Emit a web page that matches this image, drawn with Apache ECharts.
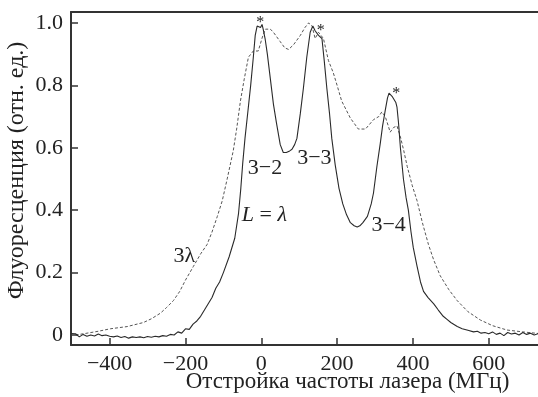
<!DOCTYPE html>
<html>
<head>
<meta charset="utf-8">
<script src="https://cdn.jsdelivr.net/npm/echarts@6/dist/echarts.min.js"></script>
<style>
  html, body { margin: 0; padding: 0; background: #fff; }
  #chart { width: 538px; height: 397px; }
</style>
</head>
<body>
<div id="chart"></div>
<script>
// Laser detuning (MHz) and relative fluorescence, single-wavelength cell (L = λ)
const detuningL = [-502,-490,-480,-470,-460,-450,-440,-430,-420,-410,-400,-390,-380,-370,-360,-350,-340,-330,-320,-310,-300,-290,-280,-270,-260,-250,-240,-230,-220,-210,-200,-190,-180,-170,-160,-150,-140,-130,-120,-110,-100,-85,-70,-60,-54,-49,-43,-35,-28,-21,-16,-11,-6,-2,2,5,10,16,24,32,40,50,58,66,75,81,88,94,103,111,120,129,136,142,151,160,166,173,180,186,195,205,215,225,235,245,253,260,268,280,290,296,305,314,320,327,333,337,341,345,350,355,358,362,367,375,382,388,395,401,411,420,428,440,455,467,480,490,500,517,530,545,560,570,580,590,600,610,620,630,640,650,660,670,680,690,700,710,720,730];
const fluorL = [0.005,0.004,-0.006,0.002,-0.004,0.0,-0.003,0.003,-0.002,0.0,-0.004,-0.006,-0.003,-0.008,-0.005,-0.01,-0.006,-0.008,-0.006,-0.009,-0.005,-0.007,-0.004,-0.006,-0.002,-0.004,0.002,0.0,0.01,0.006,0.02,0.018,0.035,0.045,0.06,0.08,0.1,0.12,0.15,0.17,0.2,0.25,0.31,0.39,0.47,0.55,0.63,0.72,0.8,0.89,0.96,0.99,0.995,0.985,0.995,0.98,0.95,0.9,0.82,0.74,0.68,0.61,0.585,0.585,0.59,0.595,0.61,0.63,0.71,0.79,0.89,0.97,0.99,0.975,0.96,0.95,0.88,0.79,0.71,0.63,0.545,0.47,0.42,0.385,0.36,0.35,0.346,0.35,0.36,0.38,0.42,0.455,0.54,0.615,0.67,0.72,0.76,0.775,0.77,0.765,0.76,0.745,0.73,0.68,0.6,0.5,0.44,0.4,0.33,0.28,0.22,0.17,0.14,0.12,0.1,0.08,0.06,0.05,0.04,0.027,0.02,0.015,0.01,0.012,0.006,0.008,0.004,0.01,0.002,0.006,-0.002,0.008,0.003,0.006,0.0,0.008,0.002,0.006,0.0,0.004];

// Thicker cell (L = 3λ)
const detuning3L = [-490,-464,-430,-398,-354,-311,-290,-266,-250,-232,-215,-200,-179,-160,-143,-130,-116,-103,-90,-74,-65,-55,-45,-34,-21,-8,3,11,16,24,32,50,62,72,85,103,115,125,134,142,151,164,177,190,200,212,235,256,275,296,310,318,327,335,340,349,358,367,376,385,398,411,425,441,455,472,495,517,545,578,610,648,690,730];
const fluor3L = [0.0,0.005,0.012,0.02,0.027,0.04,0.052,0.07,0.088,0.11,0.14,0.176,0.22,0.26,0.29,0.33,0.38,0.43,0.5,0.59,0.66,0.75,0.82,0.89,0.91,0.91,0.955,0.98,0.985,0.98,0.97,0.94,0.92,0.915,0.93,0.96,0.985,1.0,0.99,0.95,0.97,0.95,0.88,0.84,0.8,0.75,0.695,0.66,0.66,0.69,0.7,0.715,0.7,0.67,0.65,0.665,0.67,0.635,0.59,0.54,0.48,0.43,0.36,0.29,0.24,0.19,0.145,0.11,0.075,0.048,0.03,0.016,0.01,0.005];

// Axis ticks
const xTicks = [-400, -200, 0, 200, 400, 600];
const yTicks = [0, 0.2, 0.4, 0.6, 0.8, 1.0];

// Text annotations placed in data coordinates
const notes = [
  { text: '*', x: -3, y: 1.0 },
  { text: '*', x: 157, y: 0.975 },
  { text: '*', x: 356, y: 0.772 },
  { text: '3\u22122', x: 10, y: 0.535 },
  { text: '3\u22123', x: 140, y: 0.567 },
  { text: '3\u22124', x: 336, y: 0.353 },
  { text: '{i|L} = {i|\u03bb}', x: 8, y: 0.385 },
  { text: '3\u03bb', x: -203, y: 0.253 }
];

const serif = '"Liberation Serif", "DejaVu Serif", serif';
const zip = (xs, ys) => xs.map((x, i) => [x, ys[i]]);

const chart = echarts.init(document.getElementById('chart'));
chart.setOption({
  animation: false,
  backgroundColor: '#fff',
  textStyle: { fontFamily: serif },
  grid: { left: 71, top: 12, right: 0, bottom: 52, containLabel: false, outerBoundsMode: 'none' },
  xAxis: [{
    type: 'value',
    min: -502, max: 730,
    name: 'Отстройка частоты лазера (МГц)',
    nameLocation: 'middle',
    nameGap: 25,
    nameMoveOverlap: false,
    nameTextStyle: { fontFamily: serif, fontSize: 23, color: '#222', verticalAlign: 'top', padding: [0, 0, 0, 86] },
    splitLine: { show: false },
    axisLine: { onZero: false, lineStyle: { color: '#333', width: 2 } },
    axisTick: { inside: true, length: 7, customValues: xTicks, lineStyle: { color: '#333', width: 1.5 } },
    axisLabel: {
      customValues: xTicks,
      fontFamily: serif, fontSize: 22, color: '#222', margin: 8,
      formatter: v => (v < 0 ? '\u2212' + Math.abs(v) : String(v))
    }
  }, {
    type: 'value',
    position: 'top',
    min: -502, max: 730,
    splitLine: { show: false },
    axisLine: { onZero: false, lineStyle: { color: '#333', width: 2 } },
    axisTick: { show: false },
    axisLabel: { show: false }
  }],
  yAxis: {
    type: 'value',
    min: -0.032, max: 1.035,
    name: 'Флуоресценция (отн. ед.)',
    nameLocation: 'middle',
    nameRotate: 90,
    nameGap: 42,
    nameMoveOverlap: false,
    nameTextStyle: { fontFamily: serif, fontSize: 24, color: '#222', verticalAlign: 'bottom', padding: [0, 0, 0, 16] },
    splitLine: { show: false },
    axisLine: { onZero: false, lineStyle: { color: '#333', width: 2 } },
    axisTick: { inside: true, length: 7, customValues: yTicks, lineStyle: { color: '#333', width: 1.5 } },
    axisLabel: {
      customValues: yTicks,
      fontFamily: serif, fontSize: 22, color: '#222', margin: 8,
      formatter: v => (v === 0 ? '0' : v.toFixed(1))
    }
  },
  series: [{
    name: '3λ',
    type: 'line',
    data: zip(detuning3L, fluor3L),
    showSymbol: false,
    lineStyle: { color: '#555', width: 1, type: [3, 2] },
    z: 2
  }, {
    name: 'L = λ',
    type: 'line',
    data: zip(detuningL, fluorL),
    showSymbol: false,
    lineStyle: { color: '#2a2a2a', width: 1.1 },
    z: 3,
    markPoint: {
      symbol: 'circle',
      symbolSize: 0,
      silent: true,
      data: notes.map(n => ({
        coord: [n.x, n.y],
        label: {
          show: true,
          position: 'inside',
          formatter: n.text,
          fontFamily: serif,
          fontSize: n.text === '*' ? 16 : 22,
          color: '#222',
          rich: { i: { fontFamily: serif, fontStyle: 'italic', fontSize: 22, color: '#222' } }
        }
      }))
    }
  }]
});
</script>
</body>
</html>
